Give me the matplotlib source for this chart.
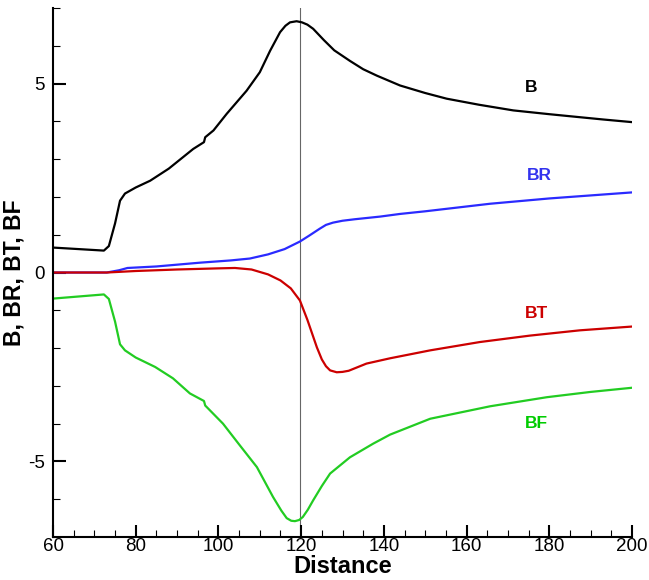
import matplotlib
matplotlib.use("Agg")
from matplotlib import pyplot as plt
from matplotlib.ticker import MultipleLocator

plt.rcParams['font.family'] = ['Liberation Sans', 'DejaVu Sans']
plt.rcParams['axes.unicode_minus'] = False

# curves
b_x = [60, 72.3, 73.5, 75, 76.2, 77.4, 80, 83.5, 88, 93.9, 96.5, 96.8, 98.8, 102, 106.8, 110,
       112.5, 114.9, 116.2, 117.3, 118.9, 120.2, 121.5, 122.9, 124.2, 125.5, 128, 131.8, 135, 138.3,
       143.9, 150, 155.2, 163, 171.3, 180, 187.4, 193, 200]
b_y = [0.66, 0.58, 0.7, 1.3, 1.9, 2.09, 2.25, 2.43, 2.75, 3.27, 3.45, 3.58, 3.76, 4.2, 4.81, 5.3,
       5.87, 6.36, 6.53, 6.62, 6.65, 6.62, 6.56, 6.45, 6.3, 6.15, 5.88, 5.6, 5.38, 5.21,
       4.95, 4.75, 4.6, 4.44, 4.29, 4.19, 4.11, 4.05, 3.98]

br_x = [60, 73, 76, 78, 85, 95.5, 103, 107.6, 112, 116, 119.7, 122, 124.5, 126, 127.7, 130, 133,
        139.1, 143.9, 150, 165.7, 180, 200]
br_y = [0, 0, 0.06, 0.12, 0.16, 0.26, 0.32, 0.37, 0.48, 0.62, 0.82, 0.98, 1.16, 1.26, 1.32, 1.37, 1.41,
        1.48, 1.55, 1.62, 1.82, 1.96, 2.12]

bt_x = [60, 73, 80, 90, 100, 104, 108, 112, 115, 117.5, 119.7, 121.5, 123.8, 125, 126, 127, 128.6, 130,
        131.5, 135.8, 141.5, 151.2, 163.2, 175.3, 187.4, 200]
bt_y = [0, 0, 0.04, 0.08, 0.11, 0.12, 0.08, -0.05, -0.21, -0.42, -0.74, -1.25, -1.98, -2.3, -2.48, -2.59, -2.64, -2.63,
        -2.6, -2.41, -2.27, -2.06, -1.84, -1.67, -1.53, -1.43]

bf_x = [60, 72.3, 73.5, 75, 76.2, 77.4, 80, 84.7, 89, 93.1, 96.5, 96.8, 101.1, 105, 109.3, 113.2, 115.2,
        116.5, 117.6, 118.5, 119.5, 120.4, 121.6, 122.9, 125, 127, 131.8, 137.4, 141.5, 151.2, 165.7,
        179.4, 190, 200]
bf_y = [-0.69, -0.58, -0.7, -1.3, -1.9, -2.06, -2.25, -2.5, -2.8, -3.2, -3.4, -3.52, -4.0, -4.55, -5.15, -5.94, -6.3,
        -6.5, -6.57, -6.58, -6.55, -6.47, -6.28, -6.03, -5.65, -5.32, -4.89, -4.53, -4.29, -3.87, -3.54,
        -3.30, -3.16, -3.05]

marker_x = 119.8  # thin vertical line

fig = plt.figure(figsize=(6.49, 5.8), dpi=100)
ax = fig.add_axes([0.0817, 0.0741, 0.8921, 0.9121])

ax.axvline(marker_x, color='#666666', lw=0.8, zorder=1)
ax.plot(b_x, b_y, color='black', lw=1.6)
ax.plot(br_x, br_y, color='#2a2aff', lw=1.6)
ax.plot(bt_x, bt_y, color='#cc0000', lw=1.6)
ax.plot(bf_x, bf_y, color='#22cc22', lw=1.6)

# curve labels
ax.text(175.7, 4.89, 'B', color='black', fontsize=12.5, fontweight='bold', ha='center', va='center')
ax.text(177.7, 2.57, 'BR', color='#3333ee', fontsize=12.5, fontweight='bold', ha='center', va='center')
ax.text(176.9, -1.09, 'BT', color='#cc0000', fontsize=12.5, fontweight='bold', ha='center', va='center')
ax.text(176.9, -4.0, 'BF', color='#00cc00', fontsize=12.5, fontweight='bold', ha='center', va='center')

ax.set_xlim(60, 200)
ax.set_ylim(-7, 7)
ax.xaxis.set_major_locator(MultipleLocator(20))
ax.xaxis.set_minor_locator(MultipleLocator(5))
ax.yaxis.set_major_locator(MultipleLocator(5))
ax.yaxis.set_minor_locator(MultipleLocator(1))

for side in ['top', 'right']:
    ax.spines[side].set_visible(False)
for side in ['left', 'bottom']:
    ax.spines[side].set_linewidth(1.5)

ax.tick_params(which='major', direction='in', length=9, width=1.5, labelsize=13.5)
ax.tick_params(which='minor', direction='in', length=5, width=0.8)
ax.tick_params(axis='x', which='major', pad=1)
ax.tick_params(axis='y', which='major', pad=6)

ax.set_xlabel('Distance', fontsize=17, fontweight='bold', labelpad=0)
ax.set_ylabel('B, BR, BT, BF', fontsize=16.5, fontweight='bold')
ax.yaxis.set_label_coords(-0.048, 0.5)

fig.savefig('out.png', dpi=100)
